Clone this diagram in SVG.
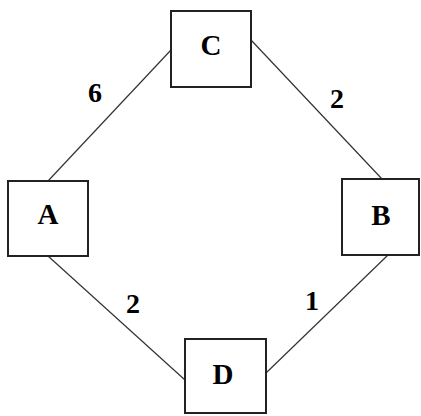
<svg xmlns="http://www.w3.org/2000/svg" width="421" height="416" viewBox="0 0 421 416">
<style>
.box{fill:#fff;stroke:#222;stroke-width:2}
.edge{stroke:#333;stroke-width:1.2;fill:none}
.lbl{font-family:"Liberation Serif",serif;font-weight:bold;font-size:29px;fill:#000;text-anchor:middle}
.w{font-family:"Liberation Serif",serif;font-weight:bold;font-size:28px;fill:#000;text-anchor:middle}
</style>
<rect width="421" height="416" fill="#fff"/>
<g id="connectors">
<line class="edge" x1="171" y1="50" x2="48" y2="181"/>
<line class="edge" x1="251" y1="40" x2="382" y2="179"/>
<line class="edge" x1="48" y1="256" x2="185" y2="380"/>
<line class="edge" x1="388" y1="255" x2="266" y2="373"/>
<text class="w" x="95" y="102">6</text>
<text class="w" x="337" y="108">2</text>
<text class="w" x="133" y="313">2</text>
<text class="w" x="312" y="310">1</text>
</g>
<g id="C"><rect class="box" x="171" y="11" width="80" height="76"/><text class="lbl" x="211" y="55">C</text></g>
<g id="A"><rect class="box" x="8" y="181" width="80" height="75"/><text class="lbl" x="48" y="224">A</text></g>
<g id="B"><rect class="box" x="342" y="179" width="77" height="76"/><text class="lbl" x="381" y="225">B</text></g>
<g id="D"><rect class="box" x="185" y="339" width="81" height="74"/><text class="lbl" x="223" y="384">D</text></g>
</svg>
